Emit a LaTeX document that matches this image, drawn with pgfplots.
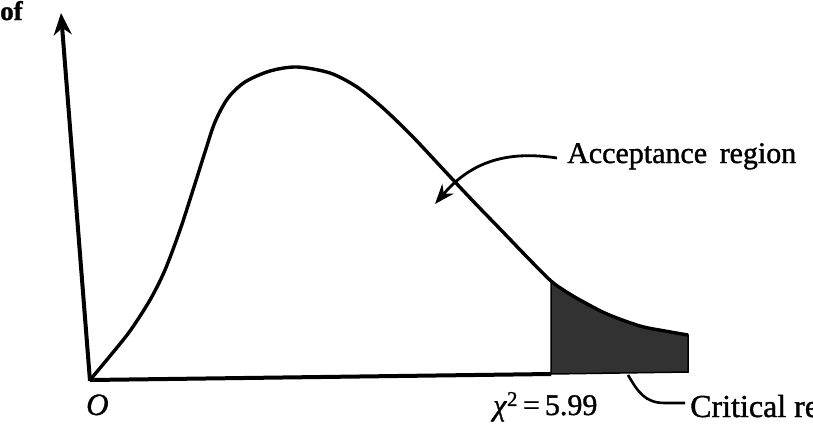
\documentclass[border=0pt]{standalone}
\usepackage{pgfplots}
\pgfplotsset{compat=1.18}
\usetikzlibrary{arrows.meta}
\usepackage{fontspec}
\setmainfont{Liberation Serif}[FakeBold=1.2]
\definecolor{tailshade}{RGB}{50,50,50}

\begin{document}
\begin{tikzpicture}
\begin{axis}[
  scale only axis,
  width=813pt, height=429pt,
  xmin=0, xmax=813, ymin=0, ymax=429,
  y dir=reverse,
  hide axis,
  clip=false,
]
% shaded critical region (upper tail beyond 5.99)
\addplot[fill=tailshade, draw=black, line width=1.5pt] coordinates {
  (551,374) (551,281) (565,291) (580,300) (607,314) (640,326) (665,331) (688,335) (688,372)
} -- cycle;

% chi-square density curve
\addplot[smooth, tension=0.5, line width=3.4pt, black, line join=round] coordinates {
  (90,380) (110,356) (130,331) (150,300) (165,270) (180,230) (193,190)
  (205,152) (215,122) (228,98) (245,82) (270,71) (297,67) (330,73)
  (357,87) (383,108) (412,136) (442,168) (472,200) (502,231) (527,257)
  (551,281) (565,291) (580,300) (607,314) (640,326) (665,331) (688,335)
};

% axes
\draw[line width=4pt] (axis cs:90,380) -- (axis cs:551,374);
\draw[line width=4pt, -{Stealth[length=22pt, width=18pt]}]
  (axis cs:90,381) -- (axis cs:61,13);

% annotations
\draw[line width=2.8pt, -{Stealth[length=20pt, width=15pt]}]
  (axis cs:557,158) .. controls (axis cs:505,150) and (axis cs:470,163) .. (axis cs:435,204);
\draw[line width=2.6pt]
  (axis cs:628,375) .. controls (axis cs:638,392) and (axis cs:645,403) .. (axis cs:665,403) -- (axis cs:685,403);

\node[anchor=base west, inner sep=0pt, font=\fontsize{30}{34}\selectfont]
  at (axis cs:567,163) {Acceptance\, region};
\node[anchor=base west, inner sep=0pt, font=\fontsize{32}{34}\selectfont]
  at (axis cs:690,417) {Critical region};
\node[anchor=base west, inner sep=0pt, font=\fontsize{30}{34}\selectfont]
  at (axis cs:493,415) {\textit{χ}\textsuperscript{2}\,=\,5.99};
\node[anchor=base west, inner sep=0pt, font=\fontsize{31}{34}\selectfont\itshape]
  at (axis cs:86,415) {O};
\node[anchor=base west, inner sep=0pt, font=\fontsize{27}{30}\selectfont\bfseries]
  at (axis cs:0,20) {of};
\end{axis}
\pgfresetboundingbox
\path[use as bounding box] (0,0) rectangle (813pt,429pt);
\end{tikzpicture}
\end{document}
